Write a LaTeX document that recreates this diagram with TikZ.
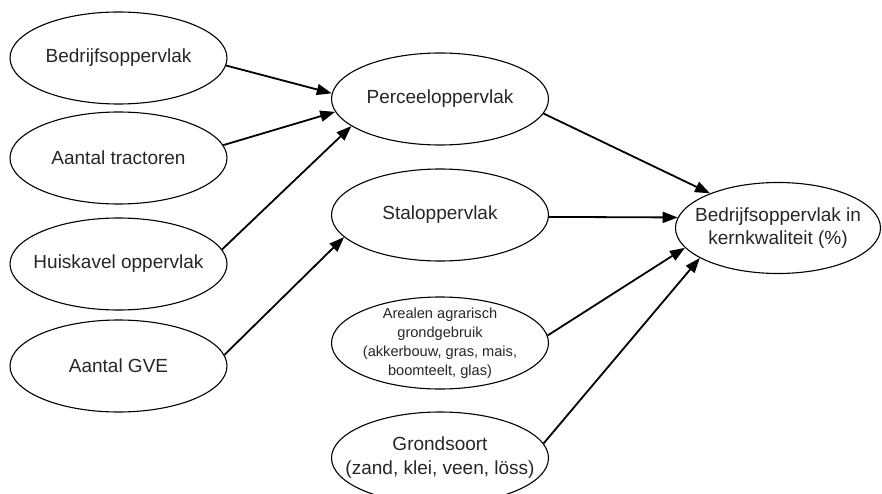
\documentclass[tikz,border=0pt]{standalone}
\usepackage{fontspec}
\setmainfont{Liberation Sans}
\usetikzlibrary{shapes.geometric,arrows.meta}
\begin{document}
\begin{tikzpicture}[x=1pt,y=-1pt,
  var/.style={ellipse, draw, line width=1.1pt, minimum width=217pt, minimum height=92pt,
    inner xsep=-60pt, inner ysep=-40pt, align=center, text=black!85,
    font=\fontsize{19}{24}\selectfont},
  link/.style={line width=1.8pt, -{Triangle[length=15pt,width=11pt]}}]
\useasboundingbox (0,0) rectangle (882,494);

% input variables (left column)
\node[var] (bedr) at (118.5,58) {Bedrijfsoppervlak};
\node[var] (tract) at (118.5,158) {Aantal tractoren};
\node[var] (huis) at (118.5,264) {Huiskavel oppervlak};
\node[var] (gve) at (118.5,366) {Aantal GVE};

% intermediate variables (middle column)
\node[var] (perc) at (440,99) {Perceeloppervlak};
\node[var] (stal) at (440,215) {Staloppervlak};
\node[var, font=\fontsize{14.6}{19}\selectfont] (areal) at (440,343)
  {Arealen agrarisch\\grondgebruik\\(akkerbouw, gras, mais,\\boomteelt, glas)};
\node[var] (grond) at (440,458) {Grondsoort\\(zand, klei, veen, löss)};

% outcome
\node[var, minimum width=205pt, minimum height=91pt, font=\fontsize{19}{23}\selectfont]
  (kern) at (778,228) {Bedrijfsoppervlak in\\kernkwaliteit (\%)};

% relations
\draw[link] (bedr.-4) -- (perc.177);
\draw[link] (tract.7) -- (perc.187);
\draw[link] (huis.8) -- (perc.197);
\draw[link] (gve.6) -- (stal.193);
\draw[link] (perc.-8) -- (kern.153);
\draw[link] (stal.-1) -- (kern.174);
\draw[link] (areal.4) -- (kern.192);
\draw[link] (grond.8) -- (kern.201);
\end{tikzpicture}
\end{document}
